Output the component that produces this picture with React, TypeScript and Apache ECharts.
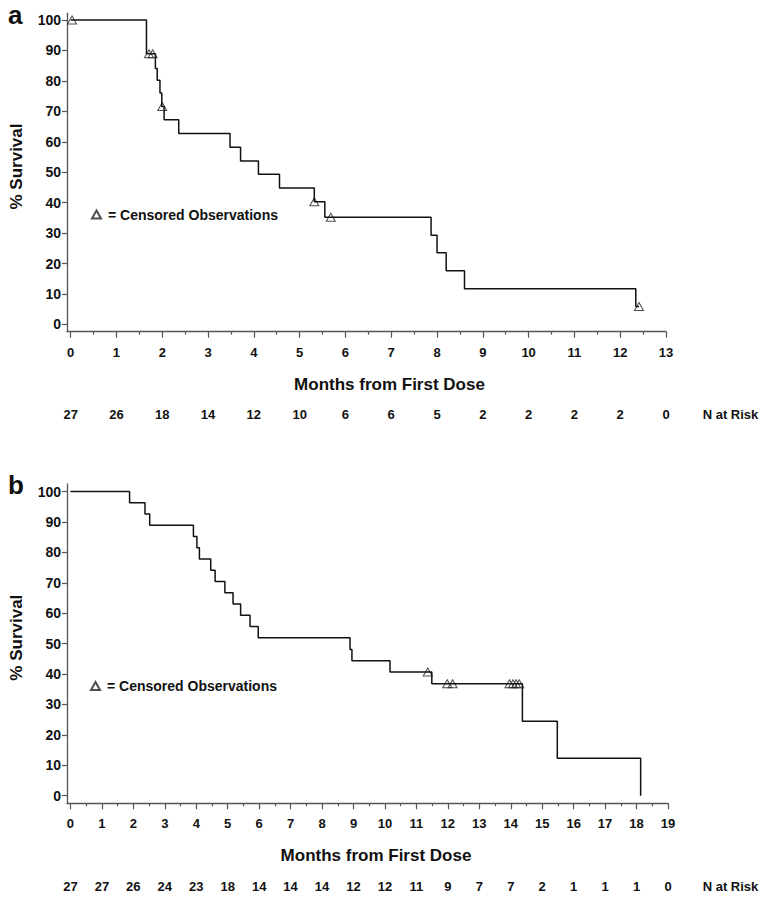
import React, { useEffect, useRef } from "react";
import * as echarts from "echarts";

// ---------- Panel a data ----------
const aTimes = [0, 1.655, 1.85, 1.89, 1.95, 1.99, 2.04, 2.36, 3.48, 3.71, 4.1, 4.56, 5.32, 5.55, 7.87, 8.0, 8.2, 8.6, 12.34, 12.41];
const aSurv = [100, 88.9, 84.1, 80.2, 76.0, 71.6, 67.2, 62.7, 58.2, 53.7, 49.3, 44.8, 40.3, 35.2, 29.3, 23.5, 17.6, 11.7, 5.9, 5.9];
const aCensTimes = [0.03, 1.71, 1.79, 2.0, 5.32, 5.68, 12.41];
const aCensSurv = [100, 88.9, 88.9, 71.6, 40.3, 35.2, 5.9];
const aMonths = [0, 1, 2, 3, 4, 5, 6, 7, 8, 9, 10, 11, 12, 13];
const aAtRisk = [27, 26, 18, 14, 12, 10, 6, 6, 5, 2, 2, 2, 2, 0];

// ---------- Panel b data ----------
const bTimes = [0, 1.88, 2.37, 2.52, 3.91, 4.02, 4.1, 4.46, 4.6, 4.91, 5.17, 5.41, 5.71, 5.97, 8.89, 8.95, 10.16, 11.49, 14.37, 15.48, 18.13];
const bSurv = [100, 96.3, 92.6, 88.9, 85.2, 81.5, 77.8, 74.1, 70.4, 66.7, 63.0, 59.3, 55.6, 51.9, 48.1, 44.4, 40.7, 36.8, 24.5, 12.3, 0];
const bCensTimes = [11.36, 11.98, 12.15, 13.96, 14.07, 14.17, 14.27];
const bCensSurv = [40.7, 36.8, 36.8, 36.8, 36.8, 36.8, 36.8];
const bMonths = [0, 1, 2, 3, 4, 5, 6, 7, 8, 9, 10, 11, 12, 13, 14, 15, 16, 17, 18, 19];
const bAtRisk = [27, 27, 26, 24, 23, 18, 14, 14, 14, 12, 12, 11, 9, 7, 7, 2, 1, 1, 1, 0];

const yTicks = [0, 10, 20, 30, 40, 50, 60, 70, 80, 90, 100];

const CENSOR_NAME = "= Censored Observations";
const FONT = "Liberation Sans";
const AXIS_COLOR = "#555";

function zip(xs: number[], ys: number[]) {
  return xs.map((x, i) => [x, ys[i]]);
}

function panel(
  gi: number,
  grid: { left: number; top: number; width: number; height: number },
  xMin: number,
  xMax: number,
  yMin: number,
  yMax: number,
  months: number[],
  atRisk: number[],
  times: number[],
  surv: number[],
  censT: number[],
  censS: number[],
  titlePad: number,
  riskGap: number
) {
  const halves = months.slice(0, -1).map((m) => m + 0.5);
  const xBase = {
    gridIndex: gi,
    type: "value",
    min: xMin,
    max: xMax,
    position: "bottom",
    splitLine: { show: false },
  };
  const xAxes = [
    {
      ...xBase,
      name: "Months from First Dose",
      nameLocation: "middle",
      nameGap: 44,
      nameTextStyle: {
        fontFamily: FONT,
        fontWeight: "bold",
        fontSize: 17,
        color: "#111",
        padding: [0, 0, 0, titlePad],
      },
      axisLine: { show: true, onZero: false, lineStyle: { color: AXIS_COLOR, width: 1.3 } },
      axisTick: { show: true, length: 6, customValues: months, lineStyle: { color: AXIS_COLOR, width: 1.2 } },
      axisLabel: {
        customValues: months,
        margin: 14,
        fontFamily: FONT,
        fontWeight: "bold",
        fontSize: 13,
        color: "#111",
      },
    },
    {
      ...xBase,
      axisLine: { show: false, onZero: false },
      axisTick: { show: true, length: 3, customValues: halves, lineStyle: { color: AXIS_COLOR, width: 1.2 } },
      axisLabel: { show: false },
    },
    {
      ...xBase,
      offset: 73.3,
      name: "N at Risk",
      nameLocation: "end",
      nameGap: riskGap,
      nameTextStyle: {
        fontFamily: FONT,
        fontWeight: "bold",
        fontSize: 13,
        color: "#111",
        verticalAlign: "top",
        align: "left",
        padding: [3, 0, 0, 0],
      },
      axisLine: { show: false, onZero: false },
      axisTick: { show: false },
      axisLabel: {
        customValues: months,
        margin: 3,
        fontFamily: FONT,
        fontWeight: "bold",
        fontSize: 13,
        color: "#111",
        formatter: (v: number) => String(atRisk[Math.round(v)]),
      },
    },
  ];
  const yAxis = {
    gridIndex: gi,
    type: "value",
    min: yMin,
    max: yMax,
    name: "% Survival",
    nameLocation: "middle",
    nameGap: 42,
    nameTextStyle: {
      fontFamily: FONT,
      fontWeight: "bold",
      fontSize: 17,
      color: "#111",
      padding: [0, 0, 0, 12],
    },
    splitLine: { show: false },
    axisLine: { show: true, onZero: false, lineStyle: { color: AXIS_COLOR, width: 1.3 } },
    axisTick: { show: true, length: 5, customValues: yTicks, lineStyle: { color: AXIS_COLOR, width: 1.2 } },
    axisLabel: {
      customValues: yTicks,
      margin: 6,
      fontFamily: FONT,
      fontWeight: "bold",
      fontSize: 14,
      color: "#111",
    },
  };
  const series = [
    {
      type: "line",
      xAxisIndex: gi * 3,
      yAxisIndex: gi,
      step: "end",
      symbol: "none",
      data: zip(times, surv),
      lineStyle: { color: "#111", width: 1.5 },
      silent: true,
    },
    {
      type: "scatter",
      name: CENSOR_NAME,
      xAxisIndex: gi * 3,
      yAxisIndex: gi,
      symbol: "triangle",
      symbolSize: [9, 8],
      data: zip(censT, censS),
      itemStyle: { color: "rgba(255,255,255,0)", borderColor: "#222", borderWidth: 1 },
    },
  ];
  return { grid: { ...grid, containLabel: false }, xAxes, yAxis, series };
}

export default function App() {
  const ref = useRef<HTMLDivElement>(null);

  useEffect(() => {
    if (!ref.current) return;
    const chart = echarts.init(ref.current, undefined, { renderer: "svg" });
    const pa = panel(
      0,
      { left: 62.3, top: 13.3, width: 603.7, height: 318.4 },
      -0.08, 13, -2.4, 102.2,
      aMonths, aAtRisk, aTimes, aSurv, aCensTimes, aCensSurv,
      46, 36.7
    );
    const pb = panel(
      1,
      { left: 65, top: 484, width: 603, height: 319.3 },
      -0.11, 19, -2.5, 102.5,
      bMonths, bAtRisk, bTimes, bSurv, bCensTimes, bCensSurv,
      17, 34.7
    );
    const legendBase = {
      orient: "horizontal",
      padding: 0,
      itemWidth: 9,
      itemHeight: 8,
      itemGap: 6,
      data: [CENSOR_NAME],
      selectedMode: false,
      textStyle: { fontFamily: FONT, fontWeight: "bold", fontSize: 14, color: "#111", padding: [0, 0, 0, 2] },
    };
    chart.setOption({
      animation: false,
      backgroundColor: "#fff",
      grid: [pa.grid, pb.grid],
      xAxis: [...pa.xAxes, ...pb.xAxes],
      yAxis: [pa.yAxis, pb.yAxis],
      series: [...pa.series, ...pb.series],
      legend: [
        { ...legendBase, left: 91, top: 207.5 },
        { ...legendBase, left: 90, top: 679 },
      ],
      graphic: [
        {
          type: "text",
          left: 8,
          top: 2,
          style: { text: "a", fontFamily: FONT, fontWeight: "bold", fontSize: 26, fill: "#111" },
        },
        {
          type: "text",
          left: 8,
          top: 472,
          style: { text: "b", fontFamily: FONT, fontWeight: "bold", fontSize: 26, fill: "#111" },
        },
      ],
    });
    return () => chart.dispose();
  }, []);

  return (
    <div
      ref={ref}
      style={{ position: "absolute", left: 0, top: 0, width: 765, height: 897, background: "#fff" }}
    />
  );
}
